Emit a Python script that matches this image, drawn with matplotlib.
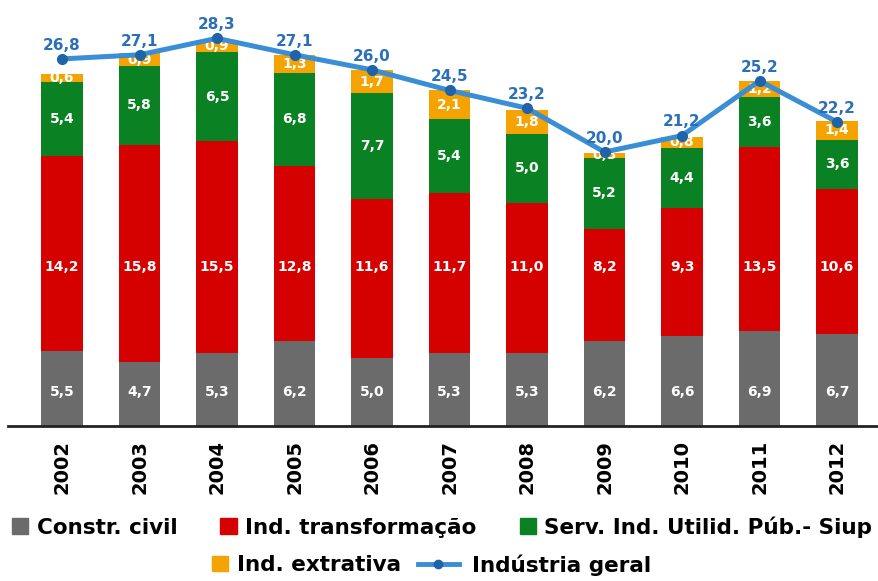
import matplotlib
matplotlib.use('Agg')
import matplotlib.pyplot as plt
from matplotlib.patches import Patch
from matplotlib.lines import Line2D

# data
anos = ['2002', '2003', '2004', '2005', '2006', '2007', '2008', '2009', '2010', '2011', '2012']
constr_civil = [5.5, 4.7, 5.3, 6.2, 5.0, 5.3, 5.3, 6.2, 6.6, 6.9, 6.7]
ind_transf = [14.2, 15.8, 15.5, 12.8, 11.6, 11.7, 11.0, 8.2, 9.3, 13.5, 10.6]
siup = [5.4, 5.8, 6.5, 6.8, 7.7, 5.4, 5.0, 5.2, 4.4, 3.6, 3.6]
ind_extrativa = [0.6, 0.9, 0.9, 1.3, 1.7, 2.1, 1.8, 0.3, 0.8, 1.2, 1.4]
industria_geral = [26.8, 27.1, 28.3, 27.1, 26.0, 24.5, 23.2, 20.0, 21.2, 25.2, 22.2]

c_gray = '#6b6b6b'
c_red = '#d50000'
c_green = '#0a8224'
c_orange = '#f5a300'
c_line = '#3a8ed6'
c_mark = '#1f64a8'

def fmt(v):
    return ('%.1f' % v).replace('.', ',')

fig = plt.figure(figsize=(8.79, 5.81), dpi=100)
ax = fig.add_axes([8 / 879, 155 / 581, 869 / 879, 426 / 581])

x = list(range(len(anos)))
w = 0.53
b1 = constr_civil
b2 = [a + b for a, b in zip(b1, ind_transf)]
b3 = [a + b for a, b in zip(b2, siup)]

ax.bar(x, constr_civil, w, color=c_gray, zorder=2)
ax.bar(x, ind_transf, w, bottom=b1, color=c_red, zorder=2)
ax.bar(x, siup, w, bottom=b2, color=c_green, zorder=2)
ax.bar(x, ind_extrativa, w, bottom=b3, color=c_orange, zorder=2)

# white value labels inside the bars
lbl = dict(color='white', fontsize=10, fontweight='bold', ha='center', va='center', zorder=4)
for i in x:
    ax.text(i, 2.5, fmt(constr_civil[i]), **lbl)
    ax.text(i, 11.6, fmt(ind_transf[i]), **lbl)
    ax.text(i, b2[i] + siup[i] / 2, fmt(siup[i]), **lbl)
    ax.text(i, b3[i] + ind_extrativa[i] / 2, fmt(ind_extrativa[i]), **lbl)

ax.plot(x, industria_geral, color=c_line, lw=3.6, marker='o', ms=7,
        markerfacecolor=c_mark, markeredgecolor=c_mark, zorder=5)
for i in x:
    ax.text(i, industria_geral[i] + 0.45, fmt(industria_geral[i]), color='#2a6fb8',
            fontsize=11, fontweight='bold', ha='center', va='bottom', zorder=6)

ax.set_xlim(-0.697, 10.516)
ax.set_ylim(0, 31.1)
for s in ['top', 'right', 'left']:
    ax.spines[s].set_visible(False)
ax.spines['bottom'].set_linewidth(2)
ax.spines['bottom'].set_color('#222222')
ax.set_yticks([])
ax.set_xticks(x)
ax.set_xticklabels(anos, rotation=90, fontsize=14, fontweight='bold')
ax.tick_params(axis='x', length=0, pad=10)

# legend, two rows
leg_font = {'size': 15.5, 'weight': 'bold'}
h1 = [Patch(color=c_gray), Patch(color=c_red), Patch(color=c_green)]
l1 = ['Constr. civil', 'Ind. transformação', 'Serv. Ind. Utilid. Púb.- Siup']
fig.legend(h1, l1, loc='center', bbox_to_anchor=(0.503, 1 - 527 / 581), ncol=3,
           frameon=False, prop=leg_font, handlelength=0.75, handleheight=0.75,
           handletextpad=0.4, columnspacing=2.0, borderaxespad=0, borderpad=0)
fig.legend([Patch(color=c_orange)], ['Ind. extrativa'], loc='center left',
           bbox_to_anchor=(212 / 879, 1 - 565 / 581), frameon=False, prop=leg_font,
           handlelength=0.75, handleheight=0.75, handletextpad=0.4,
           borderaxespad=0, borderpad=0)
fig.legend([Line2D([0], [0], color=c_line, lw=3.5, marker='o', ms=6,
                   markerfacecolor=c_mark, markeredgecolor=c_mark)],
           ['Indústria geral'], loc='center left',
           bbox_to_anchor=(418 / 879, 1 - 565 / 581), frameon=False, prop=leg_font,
           handlelength=1.9, handletextpad=0.6, borderaxespad=0, borderpad=0)

fig.savefig('out.png', dpi=100)
